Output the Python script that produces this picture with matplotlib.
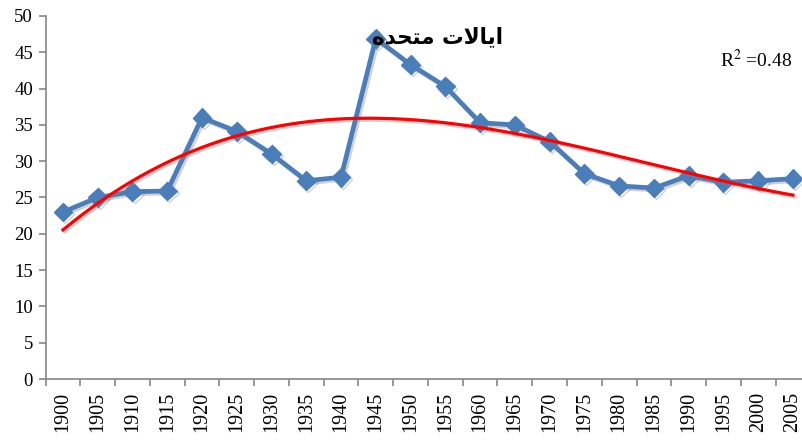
import numpy as np
import matplotlib.pyplot as plt
import matplotlib.patheffects as pe

plt.rcParams['mathtext.fontset'] = 'stix'

years = list(range(1900, 2006, 5))
values = [23.0, 25.0, 25.8, 25.9, 36.0, 34.1, 31.0, 27.3, 27.8, 46.9, 43.3,
          40.3, 35.3, 35.0, 32.7, 28.3, 26.6, 26.3, 28.0, 27.1, 27.3, 27.6]

# title "ایالات متحده" written in shaped presentation forms, visual order
title = "\ufee9\ufeaa\ufea4\ufe98\ufee3 \ufe95\ufefb\ufe8e\ufbfe\ufe8d"
r2_label = "R$^{2}$ =0.48"

x = np.array(years, dtype=float)
y = np.array(values)

# third order polynomial trendline, as the spreadsheet would draw it
coef = np.polyfit(x - 1950, y, 3)
xs = np.linspace(1900, 2005, 300)
ys = np.polyval(coef, xs - 1950)

fig = plt.figure(figsize=(8.02, 4.40), dpi=100)
ax = fig.add_axes([45.6 / 802, 61 / 440, 764.7 / 802, 363 / 440])

shadow = [pe.SimpleLineShadow(offset=(1.5, -1.5), shadow_color='gray', alpha=0.35), pe.Normal()]

ax.plot(x, y, color='#4A7EBB', lw=3.4, marker='D', ms=9.5, mec='#4A7EBB', mfc='#4A7EBB',
        path_effects=shadow, zorder=2)
ax.plot(xs, ys, color='#FF0000', lw=2.3, path_effects=shadow, zorder=3)

ax.set_xlim(1897.5, 2007.5)
ax.set_ylim(0, 50)
ax.set_yticks(range(0, 51, 5))
ax.set_xticks(years)
ax.set_xticklabels([str(v) for v in years], rotation=90)
ax.set_xticks(np.arange(1897.5, 2008, 5), minor=True)

for s in ['top', 'right']:
    ax.spines[s].set_visible(False)
for s in ['left', 'bottom']:
    ax.spines[s].set_color('#868686')
    ax.spines[s].set_linewidth(1.2)

ax.tick_params(axis='x', which='major', length=0, pad=9)
ax.tick_params(axis='x', which='minor', length=5, color='#868686', width=1.2)
ax.tick_params(axis='y', length=5, color='#868686', width=1.2, pad=4)
for lab in ax.get_xticklabels():
    lab.set_fontfamily('Liberation Serif')
    lab.set_fontsize(14.5)
for lab in ax.get_yticklabels():
    lab.set_fontfamily('Liberation Serif')
    lab.set_fontsize(13.5)

fig.text(437 / 802, 1 - 37 / 440, title, ha='center', va='center', fontsize=15.5,
         fontweight='bold', family=['DejaVu Sans'])
fig.text(756 / 802, 1 - 60 / 440, r2_label, ha='center', va='center', fontsize=14,
         family='Liberation Serif')

fig.savefig('out.png', dpi=100)
